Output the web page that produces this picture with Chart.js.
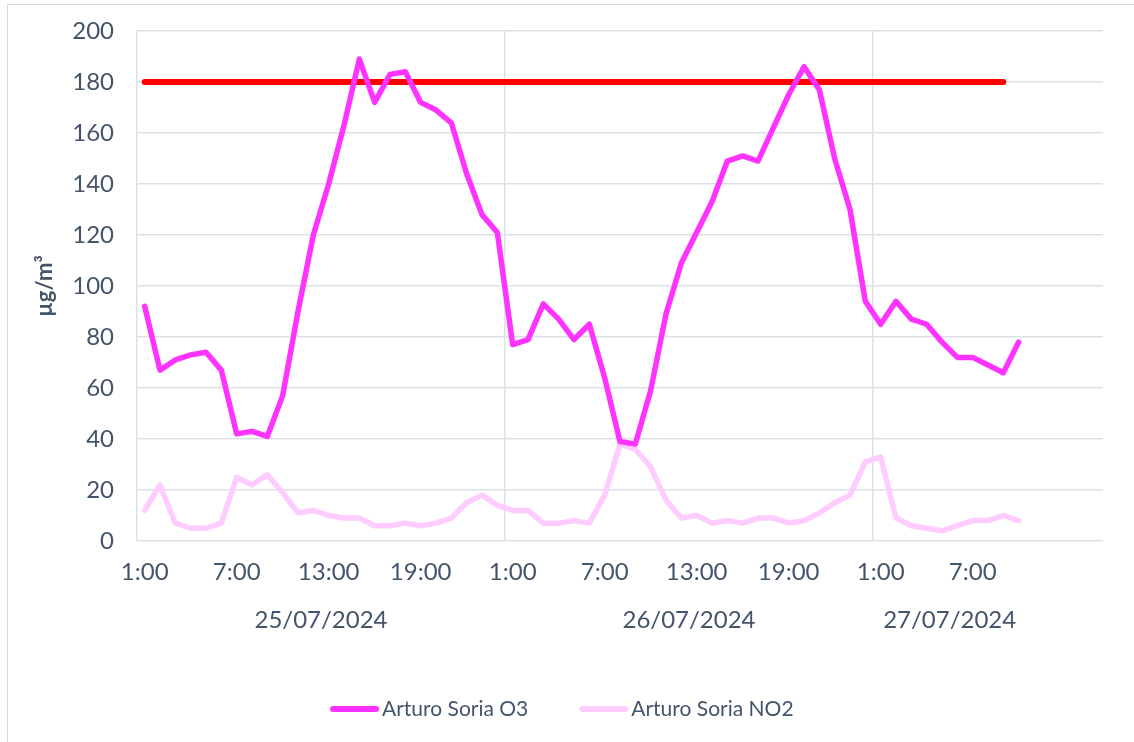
<!DOCTYPE html>
<html>
<head>
<meta charset="utf-8">
<script src="https://cdn.jsdelivr.net/npm/chart.js@4.4.1/dist/chart.umd.min.js"></script>
<style>
  html, body { margin: 0; padding: 0; background: #fff; overflow: hidden; }
  #frame { position: absolute; left: 7px; top: 4px; width: 1200px; height: 800px; border: 1px solid #d9d9d9; }
  #myChart { position: absolute; left: 0; top: 0; }
</style>
</head>
<body>
<div id="frame"></div>
<canvas id="myChart" width="1134" height="742"></canvas>
<script>
// horas de cada medida (25/07 1:00 -> 27/07 10:00)
const nbPoints = 58;
const nbCategories = 63; // el eje sigue un poco mas alla de los datos
const hourLabels = new Array(nbCategories).fill('').map((_, i) => i < nbPoints ? ((i % 24) + 1) % 24 + ':00' : '');

const dates = ['25/07/2024', '26/07/2024', '27/07/2024'];
const dateStart = [0, 24, 48];
const dateLength = [24, 24, 10];

const o3 = [92, 67, 71, 73, 74, 67, 42, 43, 41, 57,
            90, 120, 140, 163, 189, 172, 183, 184, 172, 169,
            164, 144, 128, 121, 77, 79, 93, 87, 79, 85,
            64, 39, 38, 59, 89, 109, 121, 133, 149, 151,
            149, 162, 175, 186, 177, 150, 130, 94, 85, 94,
            87, 85, 78, 72, 72, 69, 66, 78];
const no2 = [12, 22, 7, 5, 5, 7, 25, 22, 26, 19,
             11, 12, 10, 9, 9, 6, 6, 7, 6, 7,
             9, 15, 18, 14, 12, 12, 7, 7, 8, 7,
             18, 38, 36, 29, 16, 9, 10, 7, 8, 7,
             9, 9, 7, 8, 11, 15, 18, 31, 33, 9,
             6, 5, 4, 6, 8, 8, 10, 8];
// umbral de informacion O3
const limit = new Array(57).fill(180);

const yTicks = [0, 20, 40, 60, 80, 100, 120, 140, 160, 180, 200];

const textColor = '#44546a';
const gridColor = '#dde1e7';
Chart.defaults.font.family = 'Lato';
Chart.defaults.font.size = 24;
Chart.defaults.color = textColor;

// fechas debajo de las horas + leyenda abajo
const extrasPlugin = {
  id: 'extras',
  afterDraw(chart) {
    const x = chart.scales.x;
    const c = chart.ctx;
    c.save();
    c.font = '24px Lato';
    c.fillStyle = textColor;
    c.textAlign = 'center';
    c.textBaseline = 'middle';
    dates.forEach((d, k) => {
      const a = x.getPixelForValue(dateStart[k]);
      const b = x.getPixelForValue(dateStart[k] + dateLength[k] - 1);
      c.fillText(d, (a + b) / 2, 620);
    });

    // leyenda (solo O3 y NO2)
    c.font = '21px Lato';
    c.textAlign = 'left';
    let lx = 330;
    const ly = 709;
    chart.data.datasets.slice(0, 2).forEach((ds) => {
      c.strokeStyle = ds.borderColor;
      c.lineWidth = 6;
      c.lineCap = 'round';
      c.beginPath();
      c.moveTo(lx + 3, ly);
      c.lineTo(lx + 46, ly);
      c.stroke();
      c.fillStyle = textColor;
      c.fillText(ds.label, lx + 52, ly);
      lx += 52 + c.measureText(ds.label).width + 51;
    });
    c.restore();
  }
};

const ctxt = document.getElementById('myChart').getContext('2d');
const myChart = new Chart(ctxt, {
  type: 'line',
  data: {
    labels: hourLabels,
    datasets: [
      {
        label: 'Arturo Soria O3',
        data: o3,
        borderColor: '#ff33ff',
        backgroundColor: '#ff33ff',
        borderWidth: 5.5,
        pointRadius: 0,
        borderCapStyle: 'round',
        borderJoinStyle: 'round'
      },
      {
        label: 'Arturo Soria NO2',
        data: no2,
        borderColor: '#ffccff',
        backgroundColor: '#ffccff',
        borderWidth: 5.5,
        pointRadius: 0,
        borderCapStyle: 'round',
        borderJoinStyle: 'round'
      },
      {
        label: 'Umbral',
        data: limit,
        borderColor: '#ff0000',
        backgroundColor: '#ff0000',
        borderWidth: 6,
        pointRadius: 0,
        borderCapStyle: 'round'
      }
    ]
  },
  options: {
    responsive: false,
    animation: false,
    layout: { padding: { left: 0, right: 31, top: 31, bottom: 0 } },
    plugins: {
      legend: { display: false },
      tooltip: { enabled: false }
    },
    scales: {
      x: {
        offset: true,
        ticks: {
          autoSkip: false,
          maxRotation: 0,
          padding: 17,
          callback: (v, i) => (i % 6 === 0 ? hourLabels[i] : '')
        },
        grid: {
          offset: true,
          drawTicks: false,
          color: (c) => (c.index === 24 || c.index === 48 ? gridColor : 'rgba(0,0,0,0)'),
          lineWidth: 1.5
        },
        border: { display: false },
        afterFit: (s) => { s.height = 201; s.paddingLeft = 0; s.paddingRight = 0; }
      },
      y: {
        min: 0,
        max: 200,
        afterBuildTicks: (s) => { s.ticks = yTicks.map(v => ({ value: v })); },
        ticks: { padding: 23 },
        grid: { color: gridColor, lineWidth: 1.5, drawTicks: false },
        border: { display: true, color: gridColor, width: 1.5 },
        title: {
          display: true,
          text: 'µg/m³',
          font: { size: 22, weight: 'bold' },
          padding: { top: 32, bottom: 0 }
        },
        afterFit: (s) => { s.width = 137; s.paddingTop = 0; s.paddingBottom = 0; }
      }
    }
  },
  plugins: [extrasPlugin]
});
</script>
</body>
</html>
